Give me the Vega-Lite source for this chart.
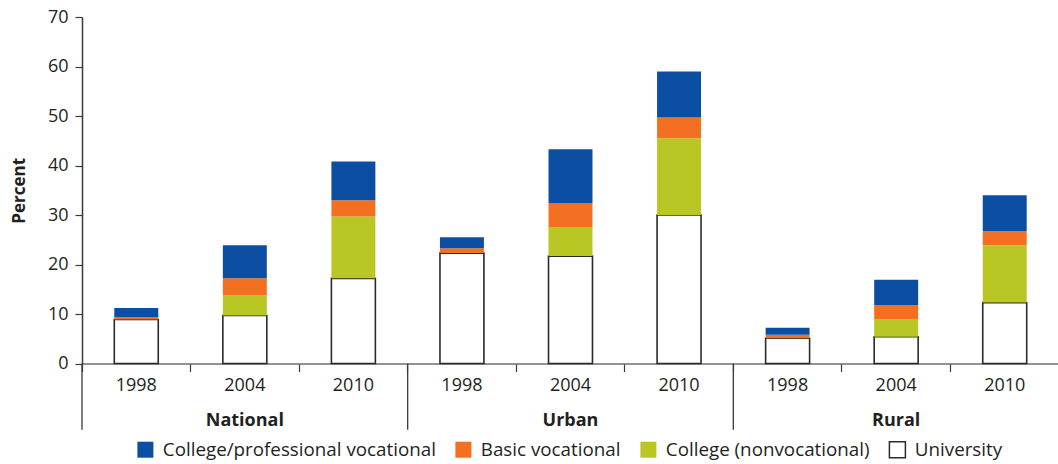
{
  "$schema": "https://vega.github.io/schema/vega-lite/v6.json",
  "autosize": "none",
  "width": 977,
  "height": 346.5,
  "padding": {"left": 82, "top": 17, "right": 0, "bottom": 100.5},
  "background": "white",
  "config": {
    "font": "Open Sans",
    "view": {"stroke": null},
    "axis": {"labelFont": "Open Sans", "titleFont": "Open Sans", "labelColor": "#231f20", "titleColor": "#231f20"},
    "legend": {"labelFont": "Open Sans"}
  },
  "data": {
    "values": [
      {"group": "National", "year": "1998", "cat": "National 1998", "type": "University", "ord": 1, "value": 8.9},
      {"group": "National", "year": "1998", "cat": "National 1998", "type": "College (nonvocational)", "ord": 2, "value": 0},
      {"group": "National", "year": "1998", "cat": "National 1998", "type": "Basic vocational", "ord": 3, "value": 0.5},
      {"group": "National", "year": "1998", "cat": "National 1998", "type": "College/professional vocational", "ord": 4, "value": 1.8},
      {"group": "National", "year": "2004", "cat": "National 2004", "type": "University", "ord": 1, "value": 9.7},
      {"group": "National", "year": "2004", "cat": "National 2004", "type": "College (nonvocational)", "ord": 2, "value": 4.1},
      {"group": "National", "year": "2004", "cat": "National 2004", "type": "Basic vocational", "ord": 3, "value": 3.4},
      {"group": "National", "year": "2004", "cat": "National 2004", "type": "College/professional vocational", "ord": 4, "value": 6.7},
      {"group": "National", "year": "2010", "cat": "National 2010", "type": "University", "ord": 1, "value": 17.2},
      {"group": "National", "year": "2010", "cat": "National 2010", "type": "College (nonvocational)", "ord": 2, "value": 12.5},
      {"group": "National", "year": "2010", "cat": "National 2010", "type": "Basic vocational", "ord": 3, "value": 3.3},
      {"group": "National", "year": "2010", "cat": "National 2010", "type": "College/professional vocational", "ord": 4, "value": 7.8},
      {"group": "Urban", "year": "1998", "cat": "Urban 1998", "type": "University", "ord": 1, "value": 22.3},
      {"group": "Urban", "year": "1998", "cat": "Urban 1998", "type": "College (nonvocational)", "ord": 2, "value": 0},
      {"group": "Urban", "year": "1998", "cat": "Urban 1998", "type": "Basic vocational", "ord": 3, "value": 1.0},
      {"group": "Urban", "year": "1998", "cat": "Urban 1998", "type": "College/professional vocational", "ord": 4, "value": 2.2},
      {"group": "Urban", "year": "2004", "cat": "Urban 2004", "type": "University", "ord": 1, "value": 21.7},
      {"group": "Urban", "year": "2004", "cat": "Urban 2004", "type": "College (nonvocational)", "ord": 2, "value": 5.8},
      {"group": "Urban", "year": "2004", "cat": "Urban 2004", "type": "Basic vocational", "ord": 3, "value": 4.9},
      {"group": "Urban", "year": "2004", "cat": "Urban 2004", "type": "College/professional vocational", "ord": 4, "value": 10.9},
      {"group": "Urban", "year": "2010", "cat": "Urban 2010", "type": "University", "ord": 1, "value": 30.0},
      {"group": "Urban", "year": "2010", "cat": "Urban 2010", "type": "College (nonvocational)", "ord": 2, "value": 15.5},
      {"group": "Urban", "year": "2010", "cat": "Urban 2010", "type": "Basic vocational", "ord": 3, "value": 4.2},
      {"group": "Urban", "year": "2010", "cat": "Urban 2010", "type": "College/professional vocational", "ord": 4, "value": 9.3},
      {"group": "Rural", "year": "1998", "cat": "Rural 1998", "type": "University", "ord": 1, "value": 5.1},
      {"group": "Rural", "year": "1998", "cat": "Rural 1998", "type": "College (nonvocational)", "ord": 2, "value": 0},
      {"group": "Rural", "year": "1998", "cat": "Rural 1998", "type": "Basic vocational", "ord": 3, "value": 0.7},
      {"group": "Rural", "year": "1998", "cat": "Rural 1998", "type": "College/professional vocational", "ord": 4, "value": 1.4},
      {"group": "Rural", "year": "2004", "cat": "Rural 2004", "type": "University", "ord": 1, "value": 5.4},
      {"group": "Rural", "year": "2004", "cat": "Rural 2004", "type": "College (nonvocational)", "ord": 2, "value": 3.6},
      {"group": "Rural", "year": "2004", "cat": "Rural 2004", "type": "Basic vocational", "ord": 3, "value": 2.8},
      {"group": "Rural", "year": "2004", "cat": "Rural 2004", "type": "College/professional vocational", "ord": 4, "value": 5.1},
      {"group": "Rural", "year": "2010", "cat": "Rural 2010", "type": "University", "ord": 1, "value": 12.3},
      {"group": "Rural", "year": "2010", "cat": "Rural 2010", "type": "College (nonvocational)", "ord": 2, "value": 11.6},
      {"group": "Rural", "year": "2010", "cat": "Rural 2010", "type": "Basic vocational", "ord": 3, "value": 2.8},
      {"group": "Rural", "year": "2010", "cat": "Rural 2010", "type": "College/professional vocational", "ord": 4, "value": 7.3}
    ]
  },
  "layer": [
    {
      "mark": {"type": "bar", "width": {"band": 0.405}, "strokeWidth": 1.6},
      "encoding": {
        "x": {
          "field": "cat", "type": "nominal", "sort": null,
          "scale": {"paddingInner": 0, "paddingOuter": 0},
          "axis": {
            "title": null, "labelAngle": 0,
            "labelExpr": "split(datum.label, ' ')[1]",
            "bandPosition": 0, "tickSize": 8, "tickColor": "#3a3a3a", "tickWidth": 1.2,
            "domainColor": "#6d6e71", "domainWidth": 1.5,
            "labelFontSize": 18, "labelPadding": 5
          }
        },
        "y": {
          "field": "value", "type": "quantitative", "stack": "zero",
          "scale": {"domain": [0, 70], "nice": false},
          "axis": {
            "title": "Percent", "titleFontSize": 17, "titleFontWeight": "bold",
            "titlePadding": 19,
            "values": [0, 10, 20, 30, 40, 50, 60, 70],
            "grid": false, "tickSize": 7, "tickColor": "#3a3a3a", "tickWidth": 1.2,
            "domainColor": "#3a3a3a", "domainWidth": 1.5,
            "labelFontSize": 18, "labelPadding": 7
          }
        },
        "order": {"field": "ord", "type": "quantitative"},
        "fill": {
          "field": "type", "type": "nominal",
          "scale": {
            "domain": ["College/professional vocational", "Basic vocational", "College (nonvocational)", "University"],
            "range": ["#0c4ea2", "#f36f21", "#b8c724", "#ffffff"]
          },
          "legend": {
            "title": null, "orient": "none", "direction": "horizontal", "columns": 4,
            "legendX": 54, "legendY": 423,
            "symbolType": "square", "symbolSize": 256, "symbolStrokeWidth": 1.5,
            "labelFontSize": 18.8, "labelColor": "#231f20", "labelOffset": 8, "columnPadding": 16,
            "labelLimit": 400
          }
        },
        "stroke": {
          "field": "type", "type": "nominal",
          "scale": {
            "domain": ["College/professional vocational", "Basic vocational", "College (nonvocational)", "University"],
            "range": ["transparent", "transparent", "transparent", "#2b2b2b"]
          },
          "legend": {
            "title": null, "orient": "none", "direction": "horizontal", "columns": 4,
            "legendX": 54, "legendY": 423,
            "symbolType": "square", "symbolSize": 256, "symbolStrokeWidth": 1.5,
            "labelFontSize": 18.8, "labelColor": "#231f20", "labelOffset": 8, "columnPadding": 16,
            "labelLimit": 400
          }
        }
      }
    },
    {
      "transform": [{"filter": "datum.year == '1998' && datum.type == 'University'"}],
      "mark": {"type": "rule", "color": "#3a3a3a", "strokeWidth": 1.3},
      "encoding": {
        "x": {"field": "cat", "type": "nominal", "sort": null, "bandPosition": 0},
        "y": {"datum": 0},
        "y2": {"datum": -13.4}
      }
    },
    {
      "transform": [{"filter": "datum.year == '2004' && datum.type == 'University'"}],
      "mark": {"type": "text", "fontWeight": "bold", "fontSize": 18, "color": "#231f20", "baseline": "middle"},
      "encoding": {
        "x": {"field": "cat", "type": "nominal", "sort": null},
        "y": {"datum": -11.7},
        "text": {"field": "group"}
      }
    }
  ]
}
